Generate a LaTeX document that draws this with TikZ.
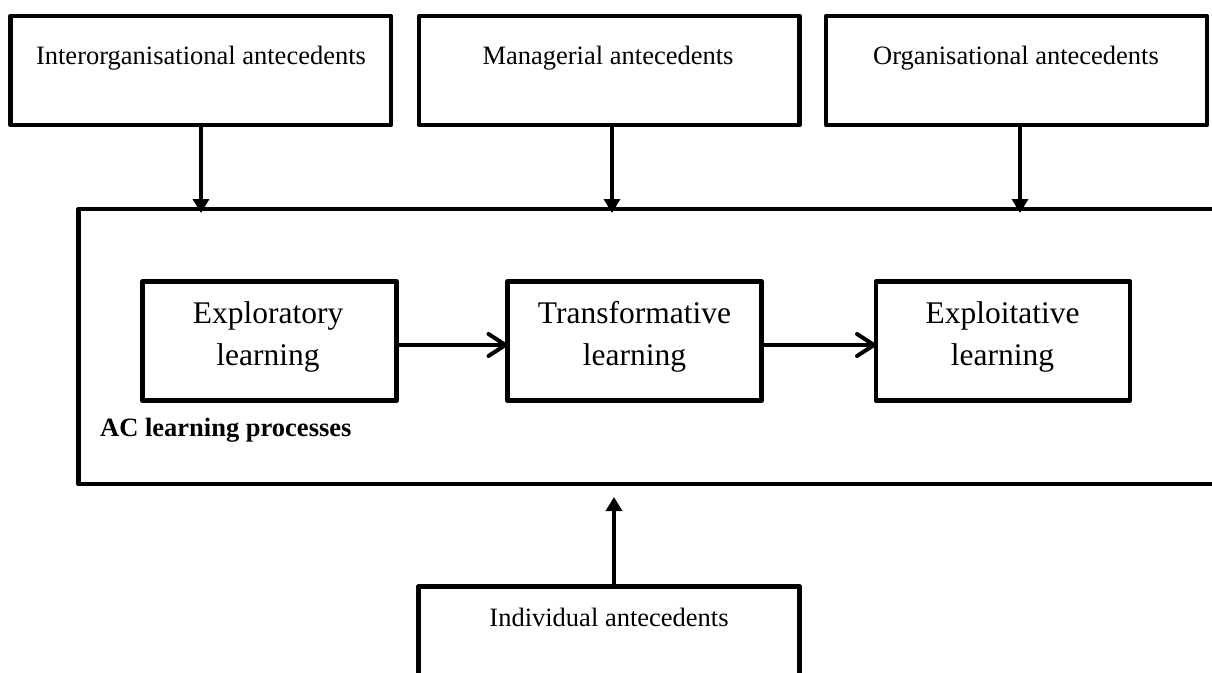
\documentclass[tikz,border=0pt]{standalone}
\usepackage{fontspec}
\setmainfont{Liberation Serif}
\usetikzlibrary{arrows.meta}
\begin{document}
\begin{tikzpicture}[x=1pt,y=-1pt,
  box/.style={draw=black, line width=4.5pt, line join=round, inner sep=0pt, outer sep=0pt},
  smalltxt/.style={font=\fontsize{26.5}{31}\selectfont, inner sep=0pt, anchor=base},
  bigtxt/.style={font=\fontsize{31.5}{42}\selectfont, align=center, inner sep=0pt},
  varrow/.style={line width=3.5pt, -{Triangle[length=14pt,width=16pt]}},
  harrow/.style={line width=4pt, -{Straight Barb[length=17pt,width=22pt,round]}}]
\useasboundingbox (0,0) rectangle (1212,672);
\fill[white] (0,0) rectangle (1212,672);

% top antecedent boxes
\node[box, minimum width=380.5pt, minimum height=109pt] (inter) at (200.75,70.5) {};
\node[box, minimum width=380.5pt, minimum height=109pt] (mgr) at (609.25,70.5) {};
\node[box, minimum width=381pt, minimum height=109pt] (org) at (1016.5,70.5) {};
\node[smalltxt] (intert) at (201,64) {Interorganisational antecedents};
\node[smalltxt] (mgrt) at (608,64) {Managerial antecedents};
\node[smalltxt] (orgt) at (1016,64) {Organisational antecedents};

% main container
\node[box, minimum width=1143.5pt, minimum height=275pt] (main) at (650.25,346.5) {};

% inner learning boxes
\node[box, minimum width=254pt, minimum height=119pt] (exp) at (269.5,341) {};
\node[box, minimum width=254pt, minimum height=119pt] (tra) at (634.5,341) {};
\node[box, minimum width=254pt, minimum height=119pt] (expl) at (1003,341) {};
\node[bigtxt] (expt) at (268,337) {Exploratory\\learning};
\node[bigtxt] (trat) at (634.5,337) {Transformative\\learning};
\node[bigtxt] (explt) at (1002.5,337) {Exploitative\\learning};

\node[font=\bfseries\fontsize{26.5}{31}\selectfont, anchor=base west, inner sep=0pt] (ac) at (100,436) {AC learning processes};

% bottom box
\node[box, minimum width=381pt, minimum height=109pt] (ind) at (609,641) {};
\node[smalltxt] (indt) at (609,626) {Individual antecedents};

% connectors
\draw[varrow, shorten >=-4pt] ([xshift=0.25pt]inter.south) -- ([xshift=0.25pt]inter.south |- main.north);
\draw[varrow, shorten >=-4pt] ([xshift=2.75pt]mgr.south) -- ([xshift=2.75pt]mgr.south |- main.north);
\draw[varrow, shorten >=-4pt] ([xshift=3.5pt]org.south) -- ([xshift=3.5pt]org.south |- main.north);
\draw[varrow, shorten >=13pt] ([xshift=5pt]ind.north) -- ([xshift=5pt]ind.north |- main.south);
\draw[harrow] ([yshift=-4pt]exp.east) -- ([yshift=-4pt]tra.west);
\draw[harrow] ([yshift=-4pt]tra.east) -- ([yshift=-4pt]expl.west);
\end{tikzpicture}
\end{document}
